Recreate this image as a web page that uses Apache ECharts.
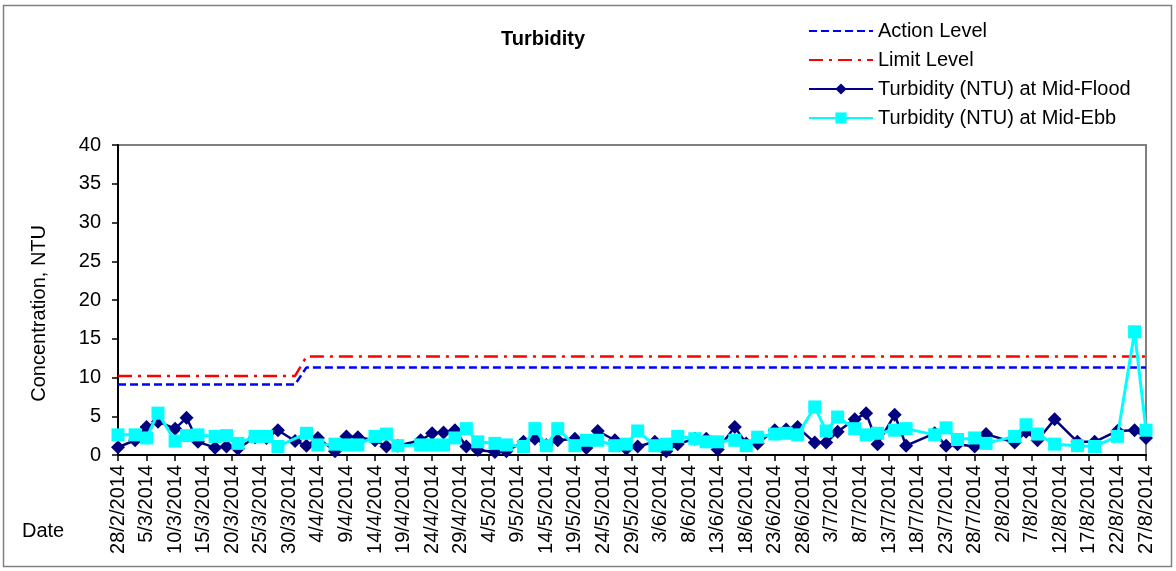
<!DOCTYPE html>
<html>
<head>
<meta charset="utf-8">
<script src="https://cdn.jsdelivr.net/npm/echarts@6/dist/echarts.min.js"></script>
<style>
html,body{margin:0;padding:0;background:#fff;}
#chart{width:1176px;height:571px;}
</style>
</head>
<body>
<div id="chart"></div>
<script>
// ---- Data ----
const sampleDates = [
  '28/2/2014','3/3/2014','5/3/2014','7/3/2014','10/3/2014','12/3/2014','14/3/2014','17/3/2014','19/3/2014','21/3/2014',
  '24/3/2014','26/3/2014','28/3/2014','31/3/2014','2/4/2014','4/4/2014','7/4/2014','9/4/2014','11/4/2014','14/4/2014',
  '16/4/2014','18/4/2014','22/4/2014','24/4/2014','26/4/2014','28/4/2014','30/4/2014','2/5/2014','5/5/2014','7/5/2014',
  '10/5/2014','12/5/2014','14/5/2014','16/5/2014','19/5/2014','21/5/2014','23/5/2014','26/5/2014','28/5/2014','30/5/2014',
  '2/6/2014','4/6/2014','6/6/2014','9/6/2014','11/6/2014','13/6/2014','16/6/2014','18/6/2014','20/6/2014','23/6/2014',
  '25/6/2014','27/6/2014','30/6/2014','2/7/2014','4/7/2014','7/7/2014','9/7/2014','11/7/2014','14/7/2014','16/7/2014',
  '21/7/2014','23/7/2014','25/7/2014','28/7/2014','30/7/2014','4/8/2014','6/8/2014','8/8/2014','11/8/2014','15/8/2014',
  '18/8/2014','22/8/2014','25/8/2014','27/8/2014'
];
const midFlood = [
  1.0,1.9,3.6,4.3,3.4,4.8,1.7,0.95,1.1,0.8,
  2.3,2.2,3.2,1.8,1.2,2.2,0.5,2.4,2.3,1.9,
  1.1,1.2,1.9,2.8,2.9,3.2,1.1,0.65,0.4,0.5,
  1.7,2.1,1.3,1.9,2.1,0.9,3.1,1.9,0.8,1.1,
  1.7,0.5,1.4,2.1,2.1,0.7,3.6,1.5,1.5,3.2,
  3.3,3.6,1.6,1.6,3.0,4.6,5.4,1.4,5.2,1.2,
  2.8,1.2,1.4,1.1,2.7,1.6,3.0,1.9,4.6,1.7,
  1.7,3.1,3.2,2.2
];
const midEbb = [
  2.6,2.6,2.2,5.4,1.8,2.5,2.6,2.4,2.5,1.5,
  2.4,2.4,1.1,null,2.8,1.3,1.4,1.3,1.3,2.4,
  2.7,1.2,1.3,1.3,1.3,2.2,3.4,1.7,1.5,1.3,
  1.1,3.4,1.2,3.4,1.2,1.9,1.9,1.2,1.4,3.1,
  1.2,1.4,2.4,2.1,1.7,1.7,1.9,1.2,2.3,2.7,
  2.8,2.6,6.2,3.1,4.9,3.4,2.6,2.8,3.2,3.4,
  2.6,3.5,2.0,2.2,1.5,2.4,3.9,2.7,1.4,1.2,
  1.1,2.4,15.9,3.2
];
const levelDates = ['28/2/2014','31/3/2014','2/4/2014','27/8/2014'];
const actionLevel = [9.1, 9.1, 11.3, 11.3];
const limitLevel = [10.2, 10.2, 12.7, 12.7];
const xTickLabels = [
  '28/2/2014','5/3/2014','10/3/2014','15/3/2014','20/3/2014','25/3/2014','30/3/2014','4/4/2014','9/4/2014','14/4/2014',
  '19/4/2014','24/4/2014','29/4/2014','4/5/2014','9/5/2014','14/5/2014','19/5/2014','24/5/2014','29/5/2014','3/6/2014',
  '8/6/2014','13/6/2014','18/6/2014','23/6/2014','28/6/2014','3/7/2014','8/7/2014','13/7/2014','18/7/2014','23/7/2014',
  '28/7/2014','2/8/2014','7/8/2014','12/8/2014','17/8/2014','22/8/2014','27/8/2014'
];
const yTickValues = [0,5,10,15,20,25,30,35,40];

// ---- Helpers ----
function dayIndex(s){
  const p = s.split('/').map(Number);
  return Math.round((Date.UTC(p[2], p[1]-1, p[0]) - Date.UTC(2014, 1, 28)) / 86400000);
}
function pairs(dates, vals){ return dates.map((d,i)=>[dayIndex(d), vals[i]]); }

const FONT = '"Liberation Sans", Arial, sans-serif';
const chart = echarts.init(document.getElementById('chart'), null, {renderer:'canvas'});
chart.setOption({
  animation:false,
  backgroundColor:'#ffffff',
  title:{
    text:'Turbidity', left:496, top:24,
    textStyle:{fontFamily:FONT, fontSize:20, fontWeight:'bold', color:'#000'}
  },
  legend:{
    orient:'vertical', left:803, top:16, itemWidth:64, itemHeight:14, itemGap:9,
    textStyle:{fontFamily:FONT, fontSize:20, color:'#000'},
    data:[
      {name:'Action Level', itemStyle:{opacity:0}},
      {name:'Limit Level', itemStyle:{opacity:0}},
      'Turbidity (NTU) at Mid-Flood',
      'Turbidity (NTU) at Mid-Ebb'
    ]
  },
  grid:{left:118, top:145, width:1028, height:310, show:true, borderColor:'#808080', borderWidth:2, outerBoundsMode:'none', containLabel:false},
  xAxis:{
    type:'value', min:0, max:180, interval:5,
    axisLine:{show:true, onZero:false, lineStyle:{color:'#000', width:2}},
    axisTick:{show:true, inside:false, length:6, lineStyle:{color:'#000', width:1.5}},
    splitLine:{show:false},
    axisLabel:{rotate:90, margin:10, fontFamily:FONT, fontSize:20, color:'#000',
      formatter:(v)=>xTickLabels[Math.round(v/5)] || ''}
  },
  yAxis:{
    type:'value', min:yTickValues[0], max:yTickValues[yTickValues.length-1], interval:5,
    axisLine:{show:true, lineStyle:{color:'#000', width:2}},
    axisTick:{show:true, inside:false, length:6, lineStyle:{color:'#000', width:1.5}},
    splitLine:{show:false},
    axisLabel:{margin:17, fontFamily:FONT, fontSize:20, color:'#000'}
  },
  graphic:[
    {type:'rect', silent:true, z:-10, shape:{x:3.5, y:5.5, width:1168, height:561}, style:{fill:null, stroke:'#808080', lineWidth:1.5}},
    {type:'text', left:29, top:225, rotation:Math.PI/2, silent:true,
      style:{text:'Concentration, NTU', font:'20px "Liberation Sans", Arial, sans-serif', fill:'#000'}},
    {type:'text', left:22, top:521, silent:true,
      style:{text:'Date', font:'20px "Liberation Sans", Arial, sans-serif', fill:'#000'}}
  ],
  series:[
    {name:'Action Level', type:'line', data:pairs(levelDates, actionLevel), symbol:'none', z:2,
      lineStyle:{color:'#0000FF', width:2.5, type:[8,4]}, itemStyle:{color:'#0000FF'}},
    {name:'Limit Level', type:'line', data:pairs(levelDates, limitLevel), symbol:'none', z:2,
      lineStyle:{color:'#FF0000', width:2.5, type:[14,6,3,6]}, itemStyle:{color:'#FF0000'}},
    {name:'Turbidity (NTU) at Mid-Flood', type:'line', data:pairs(sampleDates, midFlood), z:3,
      symbol:'diamond', symbolSize:14, showAllSymbol:true, connectNulls:true,
      lineStyle:{color:'#000080', width:2.5}, itemStyle:{color:'#000080'}},
    {name:'Turbidity (NTU) at Mid-Ebb', type:'line', data:pairs(sampleDates, midEbb), z:4,
      symbol:'rect', symbolSize:13, showAllSymbol:true, connectNulls:true,
      lineStyle:{color:'#00FFFF', width:3}, itemStyle:{color:'#00FFFF'}}
  ]
});
</script>
</body>
</html>
